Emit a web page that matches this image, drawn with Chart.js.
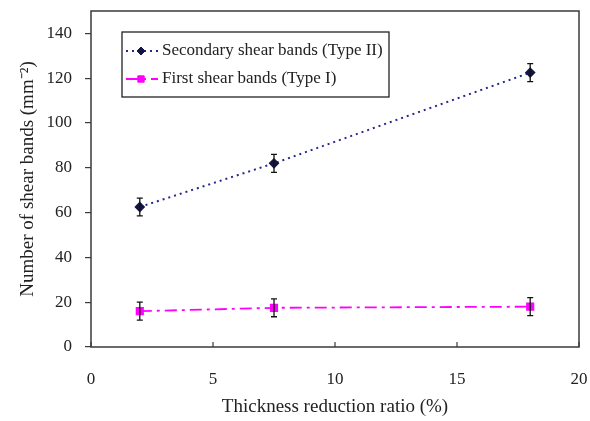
<!DOCTYPE html>
<html>
<head>
<meta charset="utf-8">
<script src="https://cdn.jsdelivr.net/npm/chart.js@4.4.1/dist/chart.umd.min.js"></script>
<style>
    html, body { margin: 0; padding: 0; background: #fff; }
    #wrap { width: 590px; height: 421px; position: relative; }
</style>
</head>
<body>
<div id="wrap"><canvas id="shearChart"></canvas></div>
<script>
// Thickness reduction ratio (%) for each measurement
const reduction = [2, 7.5, 18];

// Secondary shear bands (Type II), mm^-2, with error half-widths
const secondaryBands = [62.5, 82, 122.5];
const secondaryErr = [4, 4, 4];

// First shear bands (Type I), mm^-2, with error half-widths
const firstBands = [16, 17.5, 18];
const firstErr = [4, 4, 4];

const xTicks = [0, 5, 10, 15, 20];
const yTicks = [0, 20, 40, 60, 80, 100, 120, 140];

const FONT = "'Liberation Serif', 'Times New Roman', serif";
const TEXT = '#222';
const AXIS = '#3a3a3a';

const NAVY = '#262690';
const NAVY_DARK = '#141446';
const MAGENTA = '#ff00ff';

function toPoints(xs, ys, errs) {
    return xs.map((x, i) => ({ x: x, y: ys[i], err: errs[i] }));
}

// frame around the plot area, inward x ticks, and error bars
const framePlugin = {
    id: 'frame',
    afterDraw(chart) {
        const { ctx, chartArea: a, scales } = chart;
        ctx.save();
        ctx.strokeStyle = AXIS;
        ctx.lineWidth = 1.5;
        ctx.strokeRect(a.left, a.top, a.right - a.left, a.bottom - a.top);

        // x tick marks point into the plot
        ctx.lineWidth = 1.2;
        xTicks.forEach(v => {
            const px = scales.x.getPixelForValue(v);
            ctx.beginPath();
            ctx.moveTo(px, a.bottom);
            ctx.lineTo(px, a.bottom - 5);
            ctx.stroke();
        });
        ctx.restore();
    },
    afterDatasetsDraw(chart) {
        const { ctx, scales } = chart;
        ctx.save();
        ctx.strokeStyle = '#111';
        ctx.lineWidth = 1.3;
        chart.data.datasets.forEach(ds => {
            ds.data.forEach(p => {
                const px = scales.x.getPixelForValue(p.x);
                const top = scales.y.getPixelForValue(p.y + p.err);
                const bot = scales.y.getPixelForValue(p.y - p.err);
                ctx.beginPath();
                ctx.moveTo(px, top);
                ctx.lineTo(px, bot);
                ctx.moveTo(px - 3, top);
                ctx.lineTo(px + 3, top);
                ctx.moveTo(px - 3, bot);
                ctx.lineTo(px + 3, bot);
                ctx.stroke();
            });
        });
        ctx.restore();
    }
};

// boxed legend inside the plot, top left
const legendPlugin = {
    id: 'boxLegend',
    afterDraw(chart) {
        const { ctx } = chart;
        const box = { x: 122, y: 32, w: 267, h: 65 };
        ctx.save();
        ctx.fillStyle = '#fff';
        ctx.fillRect(box.x, box.y, box.w, box.h);
        ctx.strokeStyle = '#222';
        ctx.lineWidth = 1.3;
        ctx.strokeRect(box.x, box.y, box.w, box.h);

        chart.data.datasets.forEach((ds, i) => {
            const cy = box.y + 19 + i * 28;
            ctx.strokeStyle = ds.borderColor;
            ctx.lineWidth = ds.borderWidth;
            ctx.setLineDash(ds.borderDash || []);
            ctx.beginPath();
            ctx.moveTo(box.x + 4, cy);
            ctx.lineTo(box.x + 36, cy);
            ctx.stroke();
            ctx.setLineDash([]);
            ctx.fillStyle = ds.pointBackgroundColor;
            ctx.strokeStyle = ds.pointBorderColor;
            ctx.lineWidth = 1;
            Chart.helpers.drawPoint(ctx, {
                pointStyle: ds.pointStyle,
                radius: ds.pointRadius,
                borderWidth: 1
            }, box.x + 19, cy);

            ctx.fillStyle = TEXT;
            ctx.font = '17px ' + FONT;
            ctx.textBaseline = 'middle';
            ctx.fillText(ds.label, box.x + 40, cy);
        });
        ctx.restore();
    }
};

new Chart(document.getElementById('shearChart').getContext('2d'), {
    type: 'scatter',
    data: {
        datasets: [{
            label: 'Secondary shear bands (Type II)',
            data: toPoints(reduction, secondaryBands, secondaryErr),
            showLine: true,
            borderColor: NAVY,
            borderWidth: 2,
            borderDash: [2, 4],
            pointStyle: 'rectRot',
            pointRadius: 4,
            pointBackgroundColor: NAVY_DARK,
            pointBorderColor: NAVY_DARK
        }, {
            label: 'First shear bands (Type I)',
            data: toPoints(reduction, firstBands, firstErr),
            showLine: true,
            borderColor: MAGENTA,
            borderWidth: 1.8,
            borderDash: [12, 5, 3, 5],
            pointStyle: 'rect',
            pointRadius: 4.5,
            pointBackgroundColor: MAGENTA,
            pointBorderColor: MAGENTA
        }]
    },
    options: {
        responsive: true,
        maintainAspectRatio: false,
        animation: false,
        layout: {
            padding: { top: 11, right: 11, left: 0, bottom: 0 }
        },
        plugins: {
            legend: { display: false },
            tooltip: { enabled: false }
        },
        scales: {
            x: {
                type: 'linear',
                min: 0,
                max: 20,
                afterBuildTicks: s => { s.ticks = xTicks.map(v => ({ value: v })); },
                afterFit: s => {
                    s.height = 74;
                    s.paddingLeft = 0;
                    s.paddingRight = 0;
                },
                grid: { display: true, drawOnChartArea: false, drawTicks: false },
                border: { display: false },
                ticks: {
                    padding: 22,
                    color: TEXT,
                    font: { family: FONT, size: 17 }
                },
                title: {
                    display: true,
                    text: 'Thickness reduction ratio (%)',
                    color: TEXT,
                    font: { family: FONT, size: 19 },
                    padding: { top: 0, bottom: 3 }
                }
            },
            y: {
                type: 'linear',
                min: 0,
                max: 150,
                afterBuildTicks: s => { s.ticks = yTicks.map(v => ({ value: v })); },
                afterFit: s => {
                    s.width = 91;
                    s.paddingTop = 0;
                    s.paddingBottom = 0;
                },
                grid: {
                    drawOnChartArea: false,
                    drawTicks: true,
                    tickLength: 6,
                    color: AXIS,
                    lineWidth: 1.2
                },
                border: { display: false },
                ticks: {
                    padding: 13,
                    color: TEXT,
                    font: { family: FONT, size: 17 }
                },
                title: {
                    display: true,
                    text: 'Number of shear bands (mm⁻²)',
                    color: TEXT,
                    font: { family: FONT, size: 19 },
                    padding: { top: 17, bottom: 0 }
                }
            }
        }
    },
    plugins: [framePlugin, legendPlugin]
});
</script>
</body>
</html>
